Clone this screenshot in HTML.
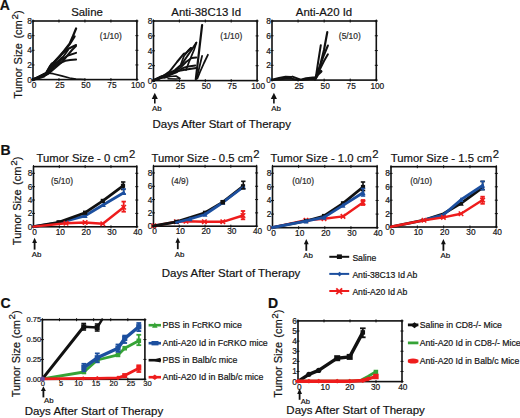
<!DOCTYPE html>
<html><head><meta charset="utf-8"><style>
html,body{margin:0;padding:0;background:#fff;}
svg{display:block;}
text{font-family:"Liberation Sans", sans-serif;stroke:#1a1a1a;stroke-width:0.2px;}
</style></head><body>
<svg width="520" height="418" viewBox="0 0 520 418">
<rect width="520" height="418" fill="#fff"/>
<text x="-0.20" y="10.30" font-size="14" text-anchor="start" font-weight="bold" fill="#111" >A</text>
<text x="0.40" y="154.90" font-size="14" text-anchor="start" font-weight="bold" fill="#111" >B</text>
<text x="0.60" y="308.00" font-size="14" text-anchor="start" font-weight="bold" fill="#111" >C</text>
<text x="268.00" y="308.10" font-size="14" text-anchor="start" font-weight="bold" fill="#111" >D</text>
<rect x="33.00" y="21.00" width="103.90" height="58.60" fill="none" stroke="#111" stroke-width="1.6"/>
<line x1="33.00" y1="19.50" x2="33.00" y2="22.50" stroke="#111" stroke-width="1"/>
<line x1="33.00" y1="78.10" x2="33.00" y2="81.10" stroke="#111" stroke-width="1"/>
<line x1="58.98" y1="19.50" x2="58.98" y2="22.50" stroke="#111" stroke-width="1"/>
<line x1="58.98" y1="78.10" x2="58.98" y2="81.10" stroke="#111" stroke-width="1"/>
<line x1="84.95" y1="19.50" x2="84.95" y2="22.50" stroke="#111" stroke-width="1"/>
<line x1="84.95" y1="78.10" x2="84.95" y2="81.10" stroke="#111" stroke-width="1"/>
<line x1="110.93" y1="19.50" x2="110.93" y2="22.50" stroke="#111" stroke-width="1"/>
<line x1="110.93" y1="78.10" x2="110.93" y2="81.10" stroke="#111" stroke-width="1"/>
<line x1="136.90" y1="19.50" x2="136.90" y2="22.50" stroke="#111" stroke-width="1"/>
<line x1="136.90" y1="78.10" x2="136.90" y2="81.10" stroke="#111" stroke-width="1"/>
<line x1="31.50" y1="79.60" x2="34.50" y2="79.60" stroke="#111" stroke-width="1"/>
<line x1="135.40" y1="79.60" x2="138.40" y2="79.60" stroke="#111" stroke-width="1"/>
<line x1="31.50" y1="64.95" x2="34.50" y2="64.95" stroke="#111" stroke-width="1"/>
<line x1="135.40" y1="64.95" x2="138.40" y2="64.95" stroke="#111" stroke-width="1"/>
<line x1="31.50" y1="50.30" x2="34.50" y2="50.30" stroke="#111" stroke-width="1"/>
<line x1="135.40" y1="50.30" x2="138.40" y2="50.30" stroke="#111" stroke-width="1"/>
<line x1="31.50" y1="35.65" x2="34.50" y2="35.65" stroke="#111" stroke-width="1"/>
<line x1="135.40" y1="35.65" x2="138.40" y2="35.65" stroke="#111" stroke-width="1"/>
<line x1="31.50" y1="21.00" x2="34.50" y2="21.00" stroke="#111" stroke-width="1"/>
<line x1="135.40" y1="21.00" x2="138.40" y2="21.00" stroke="#111" stroke-width="1"/>
<text x="34.00" y="88.30" font-size="8.3" text-anchor="middle" font-weight="normal" fill="#111" >0</text>
<text x="59.98" y="88.30" font-size="8.3" text-anchor="middle" font-weight="normal" fill="#111" >25</text>
<text x="85.95" y="88.30" font-size="8.3" text-anchor="middle" font-weight="normal" fill="#111" >50</text>
<text x="111.93" y="88.30" font-size="8.3" text-anchor="middle" font-weight="normal" fill="#111" >75</text>
<text x="137.90" y="88.30" font-size="8.3" text-anchor="middle" font-weight="normal" fill="#111" >100</text>
<text x="31.80" y="82.57" font-size="8.3" text-anchor="end" font-weight="normal" fill="#111" >0</text>
<text x="31.80" y="67.92" font-size="8.3" text-anchor="end" font-weight="normal" fill="#111" >2</text>
<text x="31.80" y="53.27" font-size="8.3" text-anchor="end" font-weight="normal" fill="#111" >4</text>
<text x="31.80" y="38.62" font-size="8.3" text-anchor="end" font-weight="normal" fill="#111" >6</text>
<text x="31.80" y="23.97" font-size="8.3" text-anchor="end" font-weight="normal" fill="#111" >8</text>
<text x="87.00" y="15.60" font-size="11.4" text-anchor="middle" font-weight="normal" fill="#111" >Saline</text>
<text x="110.80" y="39.00" font-size="8.4" text-anchor="middle" font-weight="normal" fill="#333" >(1/10)</text>
<rect x="153.50" y="21.00" width="103.60" height="59.60" fill="none" stroke="#111" stroke-width="1.6"/>
<line x1="153.50" y1="19.50" x2="153.50" y2="22.50" stroke="#111" stroke-width="1"/>
<line x1="153.50" y1="79.10" x2="153.50" y2="82.10" stroke="#111" stroke-width="1"/>
<line x1="179.40" y1="19.50" x2="179.40" y2="22.50" stroke="#111" stroke-width="1"/>
<line x1="179.40" y1="79.10" x2="179.40" y2="82.10" stroke="#111" stroke-width="1"/>
<line x1="205.30" y1="19.50" x2="205.30" y2="22.50" stroke="#111" stroke-width="1"/>
<line x1="205.30" y1="79.10" x2="205.30" y2="82.10" stroke="#111" stroke-width="1"/>
<line x1="231.20" y1="19.50" x2="231.20" y2="22.50" stroke="#111" stroke-width="1"/>
<line x1="231.20" y1="79.10" x2="231.20" y2="82.10" stroke="#111" stroke-width="1"/>
<line x1="257.10" y1="19.50" x2="257.10" y2="22.50" stroke="#111" stroke-width="1"/>
<line x1="257.10" y1="79.10" x2="257.10" y2="82.10" stroke="#111" stroke-width="1"/>
<line x1="152.00" y1="80.60" x2="155.00" y2="80.60" stroke="#111" stroke-width="1"/>
<line x1="255.60" y1="80.60" x2="258.60" y2="80.60" stroke="#111" stroke-width="1"/>
<line x1="152.00" y1="65.70" x2="155.00" y2="65.70" stroke="#111" stroke-width="1"/>
<line x1="255.60" y1="65.70" x2="258.60" y2="65.70" stroke="#111" stroke-width="1"/>
<line x1="152.00" y1="50.80" x2="155.00" y2="50.80" stroke="#111" stroke-width="1"/>
<line x1="255.60" y1="50.80" x2="258.60" y2="50.80" stroke="#111" stroke-width="1"/>
<line x1="152.00" y1="35.90" x2="155.00" y2="35.90" stroke="#111" stroke-width="1"/>
<line x1="255.60" y1="35.90" x2="258.60" y2="35.90" stroke="#111" stroke-width="1"/>
<line x1="152.00" y1="21.00" x2="155.00" y2="21.00" stroke="#111" stroke-width="1"/>
<line x1="255.60" y1="21.00" x2="258.60" y2="21.00" stroke="#111" stroke-width="1"/>
<text x="154.50" y="89.00" font-size="8.3" text-anchor="middle" font-weight="normal" fill="#111" >0</text>
<text x="180.40" y="89.00" font-size="8.3" text-anchor="middle" font-weight="normal" fill="#111" >25</text>
<text x="206.30" y="89.00" font-size="8.3" text-anchor="middle" font-weight="normal" fill="#111" >50</text>
<text x="232.20" y="89.00" font-size="8.3" text-anchor="middle" font-weight="normal" fill="#111" >75</text>
<text x="258.10" y="89.00" font-size="8.3" text-anchor="middle" font-weight="normal" fill="#111" >100</text>
<text x="152.30" y="83.57" font-size="8.3" text-anchor="end" font-weight="normal" fill="#111" >0</text>
<text x="152.30" y="68.67" font-size="8.3" text-anchor="end" font-weight="normal" fill="#111" >2</text>
<text x="152.30" y="53.77" font-size="8.3" text-anchor="end" font-weight="normal" fill="#111" >4</text>
<text x="152.30" y="38.87" font-size="8.3" text-anchor="end" font-weight="normal" fill="#111" >6</text>
<text x="152.30" y="23.97" font-size="8.3" text-anchor="end" font-weight="normal" fill="#111" >8</text>
<text x="206.20" y="15.60" font-size="11.4" text-anchor="middle" font-weight="normal" fill="#111" >Anti-38C13 Id</text>
<text x="231.30" y="39.00" font-size="8.4" text-anchor="middle" font-weight="normal" fill="#333" >(1/10)</text>
<rect x="272.00" y="21.00" width="104.30" height="59.10" fill="none" stroke="#111" stroke-width="1.6"/>
<line x1="272.00" y1="19.50" x2="272.00" y2="22.50" stroke="#111" stroke-width="1"/>
<line x1="272.00" y1="78.60" x2="272.00" y2="81.60" stroke="#111" stroke-width="1"/>
<line x1="298.07" y1="19.50" x2="298.07" y2="22.50" stroke="#111" stroke-width="1"/>
<line x1="298.07" y1="78.60" x2="298.07" y2="81.60" stroke="#111" stroke-width="1"/>
<line x1="324.15" y1="19.50" x2="324.15" y2="22.50" stroke="#111" stroke-width="1"/>
<line x1="324.15" y1="78.60" x2="324.15" y2="81.60" stroke="#111" stroke-width="1"/>
<line x1="350.23" y1="19.50" x2="350.23" y2="22.50" stroke="#111" stroke-width="1"/>
<line x1="350.23" y1="78.60" x2="350.23" y2="81.60" stroke="#111" stroke-width="1"/>
<line x1="376.30" y1="19.50" x2="376.30" y2="22.50" stroke="#111" stroke-width="1"/>
<line x1="376.30" y1="78.60" x2="376.30" y2="81.60" stroke="#111" stroke-width="1"/>
<line x1="270.50" y1="80.10" x2="273.50" y2="80.10" stroke="#111" stroke-width="1"/>
<line x1="374.80" y1="80.10" x2="377.80" y2="80.10" stroke="#111" stroke-width="1"/>
<line x1="270.50" y1="65.32" x2="273.50" y2="65.32" stroke="#111" stroke-width="1"/>
<line x1="374.80" y1="65.32" x2="377.80" y2="65.32" stroke="#111" stroke-width="1"/>
<line x1="270.50" y1="50.55" x2="273.50" y2="50.55" stroke="#111" stroke-width="1"/>
<line x1="374.80" y1="50.55" x2="377.80" y2="50.55" stroke="#111" stroke-width="1"/>
<line x1="270.50" y1="35.77" x2="273.50" y2="35.77" stroke="#111" stroke-width="1"/>
<line x1="374.80" y1="35.77" x2="377.80" y2="35.77" stroke="#111" stroke-width="1"/>
<line x1="270.50" y1="21.00" x2="273.50" y2="21.00" stroke="#111" stroke-width="1"/>
<line x1="374.80" y1="21.00" x2="377.80" y2="21.00" stroke="#111" stroke-width="1"/>
<text x="273.00" y="88.80" font-size="8.3" text-anchor="middle" font-weight="normal" fill="#111" >0</text>
<text x="299.07" y="88.80" font-size="8.3" text-anchor="middle" font-weight="normal" fill="#111" >25</text>
<text x="325.15" y="88.80" font-size="8.3" text-anchor="middle" font-weight="normal" fill="#111" >50</text>
<text x="351.23" y="88.80" font-size="8.3" text-anchor="middle" font-weight="normal" fill="#111" >75</text>
<text x="377.30" y="88.80" font-size="8.3" text-anchor="middle" font-weight="normal" fill="#111" >100</text>
<text x="270.80" y="83.07" font-size="8.3" text-anchor="end" font-weight="normal" fill="#111" >0</text>
<text x="270.80" y="68.30" font-size="8.3" text-anchor="end" font-weight="normal" fill="#111" >2</text>
<text x="270.80" y="53.52" font-size="8.3" text-anchor="end" font-weight="normal" fill="#111" >4</text>
<text x="270.80" y="38.75" font-size="8.3" text-anchor="end" font-weight="normal" fill="#111" >6</text>
<text x="270.80" y="23.97" font-size="8.3" text-anchor="end" font-weight="normal" fill="#111" >8</text>
<text x="324.00" y="15.60" font-size="11.4" text-anchor="middle" font-weight="normal" fill="#111" >Anti-A20 Id</text>
<text x="349.80" y="39.00" font-size="8.4" text-anchor="middle" font-weight="normal" fill="#333" >(5/10)</text>
<path d="M151.75,98.90 L154.80,92.80 L157.85,98.90 Z" fill="#111"/>
<line x1="154.80" y1="97.90" x2="154.80" y2="103.60" stroke="#111" stroke-width="1.6"/>
<text x="156.90" y="111.30" font-size="7.9" text-anchor="middle" font-weight="normal" fill="#111" >Ab</text>
<path d="M270.85,98.90 L273.90,92.80 L276.95,98.90 Z" fill="#111"/>
<line x1="273.90" y1="97.90" x2="273.90" y2="103.60" stroke="#111" stroke-width="1.6"/>
<text x="276.00" y="111.30" font-size="7.9" text-anchor="middle" font-weight="normal" fill="#111" >Ab</text>
<text x="221.70" y="127.60" font-size="11.5" text-anchor="middle" font-weight="normal" fill="#111" >Days After Start of Therapy</text>
<text transform="translate(22.00,98.86) rotate(-90)" font-size="11" text-anchor="start" fill="#111">Tumor Size <tspan dx="1.4">(cm</tspan><tspan dx="0.8" dy="-4.51" font-size="9.90">2</tspan><tspan dy="4.51">)</tspan></text>
<polyline points="33.00,79.60 40.00,77.00 46.60,73.50 52.00,65.00 58.00,58.00 64.00,51.00 69.60,43.60 73.00,36.00 76.10,28.50" fill="none" stroke="#111" stroke-width="2.2" stroke-linejoin="round" stroke-linecap="round"/>
<polyline points="33.00,79.60 46.00,74.00 51.00,66.00 57.00,59.00 63.00,53.00 68.00,49.00 72.00,47.00 76.10,45.00" fill="none" stroke="#111" stroke-width="2.0" stroke-linejoin="round" stroke-linecap="round"/>
<polyline points="33.00,79.60 47.00,74.00 53.00,67.00 59.00,61.00 64.00,58.00 68.00,55.50 76.10,52.90" fill="none" stroke="#111" stroke-width="2.0" stroke-linejoin="round" stroke-linecap="round"/>
<polyline points="33.00,79.60 47.00,74.00 54.00,67.00 60.00,63.00 65.30,60.80 70.00,60.00 76.10,59.60" fill="none" stroke="#111" stroke-width="2.0" stroke-linejoin="round" stroke-linecap="round"/>
<polyline points="33.00,79.60 46.00,73.00 50.00,66.00 55.00,61.00 61.00,55.00 66.00,49.00 70.00,44.00 74.70,36.40" fill="none" stroke="#111" stroke-width="2.0" stroke-linejoin="round" stroke-linecap="round"/>
<polyline points="33.00,79.60 46.00,73.50 51.70,63.50 58.10,63.00 63.00,57.00 68.00,50.00" fill="none" stroke="#111" stroke-width="2.0" stroke-linejoin="round" stroke-linecap="round"/>
<polyline points="33.00,79.60 48.00,74.00 55.00,68.00 62.00,62.00 67.00,56.00 72.00,50.00 76.00,46.00" fill="none" stroke="#111" stroke-width="2.0" stroke-linejoin="round" stroke-linecap="round"/>
<polyline points="33.00,79.60 44.00,76.00 49.00,71.00 53.00,66.00 58.00,62.00 62.00,58.00" fill="none" stroke="#111" stroke-width="3" stroke-linejoin="round" stroke-linecap="round"/>
<polyline points="33.00,79.60 46.60,73.00 53.10,73.70 61.70,75.90 69.60,78.00 76.00,79.00 84.70,79.50" fill="none" stroke="#111" stroke-width="1.7" stroke-linejoin="round" stroke-linecap="round"/>
<polyline points="153.50,80.50 163.00,76.00 169.50,71.70 177.00,62.00 183.70,53.80 185.80,53.30 191.00,48.00" fill="none" stroke="#111" stroke-width="2.0" stroke-linejoin="round" stroke-linecap="round"/>
<polyline points="153.50,80.50 166.00,75.00 175.00,70.00 182.00,64.00 186.00,58.00 191.50,50.00 196.30,42.70" fill="none" stroke="#111" stroke-width="2.0" stroke-linejoin="round" stroke-linecap="round"/>
<polyline points="153.50,80.50 168.00,75.00 178.00,71.00 186.30,69.60 196.30,68.00" fill="none" stroke="#111" stroke-width="2.0" stroke-linejoin="round" stroke-linecap="round"/>
<polyline points="153.50,80.50 167.00,76.00 177.00,72.00 183.00,68.00 188.40,66.40 195.30,65.40" fill="none" stroke="#111" stroke-width="2.0" stroke-linejoin="round" stroke-linecap="round"/>
<polyline points="153.50,80.50 170.00,74.00 180.00,68.00 186.00,62.00 191.60,58.00 196.30,57.50" fill="none" stroke="#111" stroke-width="2.0" stroke-linejoin="round" stroke-linecap="round"/>
<polyline points="186.00,70.00 189.00,62.00 194.00,50.00 196.30,42.70" fill="none" stroke="#111" stroke-width="1.8" stroke-linejoin="round" stroke-linecap="round"/>
<polyline points="181.00,64.00 184.00,56.00 188.00,51.00 191.00,48.00" fill="none" stroke="#111" stroke-width="1.8" stroke-linejoin="round" stroke-linecap="round"/>
<polyline points="153.50,80.50 160.00,77.50 166.00,75.50 172.00,72.50" fill="none" stroke="#111" stroke-width="3" stroke-linejoin="round" stroke-linecap="round"/>
<polyline points="164.00,78.00 170.00,76.50 176.00,76.00 180.00,78.50 176.00,79.00 168.00,78.80" fill="none" stroke="#111" stroke-width="1.6" stroke-linejoin="round" stroke-linecap="round"/>
<polyline points="195.80,79.50 202.10,25.10" fill="none" stroke="#111" stroke-width="2.2" stroke-linejoin="round" stroke-linecap="round"/>
<polyline points="196.80,78.00 202.10,55.90" fill="none" stroke="#111" stroke-width="1.8" stroke-linejoin="round" stroke-linecap="round"/>
<polyline points="197.40,78.50 200.00,72.00 204.00,63.00 207.90,54.80" fill="none" stroke="#111" stroke-width="1.8" stroke-linejoin="round" stroke-linecap="round"/>
<polyline points="272.00,79.60 279.00,78.00 285.60,76.80 291.10,77.10 292.50,76.60 300.60,79.60 306.10,78.20 312.90,77.50 315.70,77.50" fill="none" stroke="#111" stroke-width="2.0" stroke-linejoin="round" stroke-linecap="round"/>
<polyline points="272.00,80.00 282.00,79.00 290.00,78.50 296.00,79.50 301.60,80.00 310.00,79.00 315.00,79.00" fill="none" stroke="#111" stroke-width="1.8" stroke-linejoin="round" stroke-linecap="round"/>
<polyline points="315.70,78.20 320.00,66.00 324.00,50.00 327.30,32.10" fill="none" stroke="#111" stroke-width="2.2" stroke-linejoin="round" stroke-linecap="round"/>
<polyline points="315.70,78.20 318.00,63.00 320.80,45.20" fill="none" stroke="#111" stroke-width="2.0" stroke-linejoin="round" stroke-linecap="round"/>
<polyline points="315.70,78.20 320.00,66.00 324.00,55.00 327.90,45.50" fill="none" stroke="#111" stroke-width="2.0" stroke-linejoin="round" stroke-linecap="round"/>
<polyline points="315.70,78.20 320.00,69.00 324.00,61.00 327.90,54.30" fill="none" stroke="#111" stroke-width="2.0" stroke-linejoin="round" stroke-linecap="round"/>
<polyline points="315.00,79.00 318.00,74.00 321.00,71.40" fill="none" stroke="#111" stroke-width="3" stroke-linejoin="round" stroke-linecap="round"/>
<rect x="33.50" y="166.60" width="103.30" height="60.20" fill="none" stroke="#111" stroke-width="1.6"/>
<line x1="33.50" y1="165.10" x2="33.50" y2="168.10" stroke="#111" stroke-width="1"/>
<line x1="33.50" y1="225.30" x2="33.50" y2="228.30" stroke="#111" stroke-width="1"/>
<line x1="59.33" y1="165.10" x2="59.33" y2="168.10" stroke="#111" stroke-width="1"/>
<line x1="59.33" y1="225.30" x2="59.33" y2="228.30" stroke="#111" stroke-width="1"/>
<line x1="85.15" y1="165.10" x2="85.15" y2="168.10" stroke="#111" stroke-width="1"/>
<line x1="85.15" y1="225.30" x2="85.15" y2="228.30" stroke="#111" stroke-width="1"/>
<line x1="110.98" y1="165.10" x2="110.98" y2="168.10" stroke="#111" stroke-width="1"/>
<line x1="110.98" y1="225.30" x2="110.98" y2="228.30" stroke="#111" stroke-width="1"/>
<line x1="136.80" y1="165.10" x2="136.80" y2="168.10" stroke="#111" stroke-width="1"/>
<line x1="136.80" y1="225.30" x2="136.80" y2="228.30" stroke="#111" stroke-width="1"/>
<line x1="32.00" y1="226.80" x2="35.00" y2="226.80" stroke="#111" stroke-width="1"/>
<line x1="135.30" y1="226.80" x2="138.30" y2="226.80" stroke="#111" stroke-width="1"/>
<line x1="32.00" y1="213.42" x2="35.00" y2="213.42" stroke="#111" stroke-width="1"/>
<line x1="135.30" y1="213.42" x2="138.30" y2="213.42" stroke="#111" stroke-width="1"/>
<line x1="32.00" y1="200.04" x2="35.00" y2="200.04" stroke="#111" stroke-width="1"/>
<line x1="135.30" y1="200.04" x2="138.30" y2="200.04" stroke="#111" stroke-width="1"/>
<line x1="32.00" y1="186.67" x2="35.00" y2="186.67" stroke="#111" stroke-width="1"/>
<line x1="135.30" y1="186.67" x2="138.30" y2="186.67" stroke="#111" stroke-width="1"/>
<line x1="32.00" y1="173.29" x2="35.00" y2="173.29" stroke="#111" stroke-width="1"/>
<line x1="135.30" y1="173.29" x2="138.30" y2="173.29" stroke="#111" stroke-width="1"/>
<text x="34.50" y="235.00" font-size="8.3" text-anchor="middle" font-weight="normal" fill="#111" >0</text>
<text x="60.33" y="235.00" font-size="8.3" text-anchor="middle" font-weight="normal" fill="#111" >10</text>
<text x="86.15" y="235.00" font-size="8.3" text-anchor="middle" font-weight="normal" fill="#111" >20</text>
<text x="111.98" y="235.00" font-size="8.3" text-anchor="middle" font-weight="normal" fill="#111" >30</text>
<text x="137.80" y="235.00" font-size="8.3" text-anchor="middle" font-weight="normal" fill="#111" >40</text>
<text x="32.30" y="229.77" font-size="8.3" text-anchor="end" font-weight="normal" fill="#111" >0</text>
<text x="32.30" y="216.39" font-size="8.3" text-anchor="end" font-weight="normal" fill="#111" >2</text>
<text x="32.30" y="203.02" font-size="8.3" text-anchor="end" font-weight="normal" fill="#111" >4</text>
<text x="32.30" y="189.64" font-size="8.3" text-anchor="end" font-weight="normal" fill="#111" >6</text>
<text x="32.30" y="176.26" font-size="8.3" text-anchor="end" font-weight="normal" fill="#111" >8</text>
<text x="85.95" y="161.9" font-size="11.3" text-anchor="middle" fill="#111">Tumor Size - 0 cm<tspan dx="0.5" dy="-4" font-size="11.3">2</tspan></text>
<text x="62.00" y="183.60" font-size="8.4" text-anchor="middle" font-weight="normal" fill="#333" >(5/10)</text>
<path d="M32.20,243.10 L34.60,237.80 L37.00,243.10 Z" fill="#111"/>
<line x1="34.60" y1="242.10" x2="34.60" y2="249.60" stroke="#111" stroke-width="1.8"/>
<text x="36.50" y="256.90" font-size="7.9" text-anchor="middle" font-weight="normal" fill="#111" >Ab</text>
<rect x="153.50" y="166.30" width="103.10" height="59.90" fill="none" stroke="#111" stroke-width="1.6"/>
<line x1="153.50" y1="164.80" x2="153.50" y2="167.80" stroke="#111" stroke-width="1"/>
<line x1="153.50" y1="224.70" x2="153.50" y2="227.70" stroke="#111" stroke-width="1"/>
<line x1="179.28" y1="164.80" x2="179.28" y2="167.80" stroke="#111" stroke-width="1"/>
<line x1="179.28" y1="224.70" x2="179.28" y2="227.70" stroke="#111" stroke-width="1"/>
<line x1="205.05" y1="164.80" x2="205.05" y2="167.80" stroke="#111" stroke-width="1"/>
<line x1="205.05" y1="224.70" x2="205.05" y2="227.70" stroke="#111" stroke-width="1"/>
<line x1="230.83" y1="164.80" x2="230.83" y2="167.80" stroke="#111" stroke-width="1"/>
<line x1="230.83" y1="224.70" x2="230.83" y2="227.70" stroke="#111" stroke-width="1"/>
<line x1="256.60" y1="164.80" x2="256.60" y2="167.80" stroke="#111" stroke-width="1"/>
<line x1="256.60" y1="224.70" x2="256.60" y2="227.70" stroke="#111" stroke-width="1"/>
<line x1="152.00" y1="226.20" x2="155.00" y2="226.20" stroke="#111" stroke-width="1"/>
<line x1="255.10" y1="226.20" x2="258.10" y2="226.20" stroke="#111" stroke-width="1"/>
<line x1="152.00" y1="212.89" x2="155.00" y2="212.89" stroke="#111" stroke-width="1"/>
<line x1="255.10" y1="212.89" x2="258.10" y2="212.89" stroke="#111" stroke-width="1"/>
<line x1="152.00" y1="199.58" x2="155.00" y2="199.58" stroke="#111" stroke-width="1"/>
<line x1="255.10" y1="199.58" x2="258.10" y2="199.58" stroke="#111" stroke-width="1"/>
<line x1="152.00" y1="186.27" x2="155.00" y2="186.27" stroke="#111" stroke-width="1"/>
<line x1="255.10" y1="186.27" x2="258.10" y2="186.27" stroke="#111" stroke-width="1"/>
<line x1="152.00" y1="172.96" x2="155.00" y2="172.96" stroke="#111" stroke-width="1"/>
<line x1="255.10" y1="172.96" x2="258.10" y2="172.96" stroke="#111" stroke-width="1"/>
<text x="154.50" y="234.40" font-size="8.3" text-anchor="middle" font-weight="normal" fill="#111" >0</text>
<text x="180.28" y="234.40" font-size="8.3" text-anchor="middle" font-weight="normal" fill="#111" >10</text>
<text x="206.05" y="234.40" font-size="8.3" text-anchor="middle" font-weight="normal" fill="#111" >20</text>
<text x="231.83" y="234.40" font-size="8.3" text-anchor="middle" font-weight="normal" fill="#111" >30</text>
<text x="257.60" y="234.40" font-size="8.3" text-anchor="middle" font-weight="normal" fill="#111" >40</text>
<text x="152.30" y="229.17" font-size="8.3" text-anchor="end" font-weight="normal" fill="#111" >0</text>
<text x="152.30" y="215.86" font-size="8.3" text-anchor="end" font-weight="normal" fill="#111" >2</text>
<text x="152.30" y="202.55" font-size="8.3" text-anchor="end" font-weight="normal" fill="#111" >4</text>
<text x="152.30" y="189.24" font-size="8.3" text-anchor="end" font-weight="normal" fill="#111" >6</text>
<text x="152.30" y="175.93" font-size="8.3" text-anchor="end" font-weight="normal" fill="#111" >8</text>
<text x="205.55" y="161.9" font-size="11.3" text-anchor="middle" fill="#111">Tumor Size - 0.5 cm<tspan dx="0.5" dy="-4" font-size="11.3">2</tspan></text>
<text x="179.90" y="183.60" font-size="8.4" text-anchor="middle" font-weight="normal" fill="#333" >(4/9)</text>
<path d="M175.40,242.70 L177.80,237.40 L180.20,242.70 Z" fill="#111"/>
<line x1="177.80" y1="241.70" x2="177.80" y2="249.20" stroke="#111" stroke-width="1.8"/>
<text x="179.70" y="256.50" font-size="7.9" text-anchor="middle" font-weight="normal" fill="#111" >Ab</text>
<rect x="272.50" y="166.40" width="104.60" height="61.30" fill="none" stroke="#111" stroke-width="1.6"/>
<line x1="272.50" y1="164.90" x2="272.50" y2="167.90" stroke="#111" stroke-width="1"/>
<line x1="272.50" y1="226.20" x2="272.50" y2="229.20" stroke="#111" stroke-width="1"/>
<line x1="298.65" y1="164.90" x2="298.65" y2="167.90" stroke="#111" stroke-width="1"/>
<line x1="298.65" y1="226.20" x2="298.65" y2="229.20" stroke="#111" stroke-width="1"/>
<line x1="324.80" y1="164.90" x2="324.80" y2="167.90" stroke="#111" stroke-width="1"/>
<line x1="324.80" y1="226.20" x2="324.80" y2="229.20" stroke="#111" stroke-width="1"/>
<line x1="350.95" y1="164.90" x2="350.95" y2="167.90" stroke="#111" stroke-width="1"/>
<line x1="350.95" y1="226.20" x2="350.95" y2="229.20" stroke="#111" stroke-width="1"/>
<line x1="377.10" y1="164.90" x2="377.10" y2="167.90" stroke="#111" stroke-width="1"/>
<line x1="377.10" y1="226.20" x2="377.10" y2="229.20" stroke="#111" stroke-width="1"/>
<line x1="271.00" y1="227.70" x2="274.00" y2="227.70" stroke="#111" stroke-width="1"/>
<line x1="375.60" y1="227.70" x2="378.60" y2="227.70" stroke="#111" stroke-width="1"/>
<line x1="271.00" y1="214.08" x2="274.00" y2="214.08" stroke="#111" stroke-width="1"/>
<line x1="375.60" y1="214.08" x2="378.60" y2="214.08" stroke="#111" stroke-width="1"/>
<line x1="271.00" y1="200.46" x2="274.00" y2="200.46" stroke="#111" stroke-width="1"/>
<line x1="375.60" y1="200.46" x2="378.60" y2="200.46" stroke="#111" stroke-width="1"/>
<line x1="271.00" y1="186.83" x2="274.00" y2="186.83" stroke="#111" stroke-width="1"/>
<line x1="375.60" y1="186.83" x2="378.60" y2="186.83" stroke="#111" stroke-width="1"/>
<line x1="271.00" y1="173.21" x2="274.00" y2="173.21" stroke="#111" stroke-width="1"/>
<line x1="375.60" y1="173.21" x2="378.60" y2="173.21" stroke="#111" stroke-width="1"/>
<text x="273.50" y="235.90" font-size="8.3" text-anchor="middle" font-weight="normal" fill="#111" >0</text>
<text x="299.65" y="235.90" font-size="8.3" text-anchor="middle" font-weight="normal" fill="#111" >10</text>
<text x="325.80" y="235.90" font-size="8.3" text-anchor="middle" font-weight="normal" fill="#111" >20</text>
<text x="351.95" y="235.90" font-size="8.3" text-anchor="middle" font-weight="normal" fill="#111" >30</text>
<text x="378.10" y="235.90" font-size="8.3" text-anchor="middle" font-weight="normal" fill="#111" >40</text>
<text x="271.30" y="230.67" font-size="8.3" text-anchor="end" font-weight="normal" fill="#111" >0</text>
<text x="271.30" y="217.05" font-size="8.3" text-anchor="end" font-weight="normal" fill="#111" >2</text>
<text x="271.30" y="203.43" font-size="8.3" text-anchor="end" font-weight="normal" fill="#111" >4</text>
<text x="271.30" y="189.80" font-size="8.3" text-anchor="end" font-weight="normal" fill="#111" >6</text>
<text x="271.30" y="176.18" font-size="8.3" text-anchor="end" font-weight="normal" fill="#111" >8</text>
<text x="324.55" y="161.9" font-size="11.3" text-anchor="middle" fill="#111">Tumor Size - 1.0 cm<tspan dx="0.5" dy="-4" font-size="11.3">2</tspan></text>
<text x="303.10" y="183.60" font-size="8.4" text-anchor="middle" font-weight="normal" fill="#333" >(0/10)</text>
<path d="M303.90,244.30 L306.30,239.00 L308.70,244.30 Z" fill="#111"/>
<line x1="306.30" y1="243.30" x2="306.30" y2="250.80" stroke="#111" stroke-width="1.8"/>
<text x="308.20" y="258.10" font-size="7.9" text-anchor="middle" font-weight="normal" fill="#111" >Ab</text>
<rect x="391.00" y="166.70" width="105.30" height="60.30" fill="none" stroke="#111" stroke-width="1.6"/>
<line x1="391.00" y1="165.20" x2="391.00" y2="168.20" stroke="#111" stroke-width="1"/>
<line x1="391.00" y1="225.50" x2="391.00" y2="228.50" stroke="#111" stroke-width="1"/>
<line x1="417.32" y1="165.20" x2="417.32" y2="168.20" stroke="#111" stroke-width="1"/>
<line x1="417.32" y1="225.50" x2="417.32" y2="228.50" stroke="#111" stroke-width="1"/>
<line x1="443.65" y1="165.20" x2="443.65" y2="168.20" stroke="#111" stroke-width="1"/>
<line x1="443.65" y1="225.50" x2="443.65" y2="228.50" stroke="#111" stroke-width="1"/>
<line x1="469.98" y1="165.20" x2="469.98" y2="168.20" stroke="#111" stroke-width="1"/>
<line x1="469.98" y1="225.50" x2="469.98" y2="228.50" stroke="#111" stroke-width="1"/>
<line x1="496.30" y1="165.20" x2="496.30" y2="168.20" stroke="#111" stroke-width="1"/>
<line x1="496.30" y1="225.50" x2="496.30" y2="228.50" stroke="#111" stroke-width="1"/>
<line x1="389.50" y1="227.00" x2="392.50" y2="227.00" stroke="#111" stroke-width="1"/>
<line x1="494.80" y1="227.00" x2="497.80" y2="227.00" stroke="#111" stroke-width="1"/>
<line x1="389.50" y1="213.60" x2="392.50" y2="213.60" stroke="#111" stroke-width="1"/>
<line x1="494.80" y1="213.60" x2="497.80" y2="213.60" stroke="#111" stroke-width="1"/>
<line x1="389.50" y1="200.20" x2="392.50" y2="200.20" stroke="#111" stroke-width="1"/>
<line x1="494.80" y1="200.20" x2="497.80" y2="200.20" stroke="#111" stroke-width="1"/>
<line x1="389.50" y1="186.80" x2="392.50" y2="186.80" stroke="#111" stroke-width="1"/>
<line x1="494.80" y1="186.80" x2="497.80" y2="186.80" stroke="#111" stroke-width="1"/>
<line x1="389.50" y1="173.40" x2="392.50" y2="173.40" stroke="#111" stroke-width="1"/>
<line x1="494.80" y1="173.40" x2="497.80" y2="173.40" stroke="#111" stroke-width="1"/>
<text x="392.00" y="235.20" font-size="8.3" text-anchor="middle" font-weight="normal" fill="#111" >0</text>
<text x="418.32" y="235.20" font-size="8.3" text-anchor="middle" font-weight="normal" fill="#111" >10</text>
<text x="444.65" y="235.20" font-size="8.3" text-anchor="middle" font-weight="normal" fill="#111" >20</text>
<text x="470.98" y="235.20" font-size="8.3" text-anchor="middle" font-weight="normal" fill="#111" >30</text>
<text x="497.30" y="235.20" font-size="8.3" text-anchor="middle" font-weight="normal" fill="#111" >40</text>
<text x="389.80" y="229.97" font-size="8.3" text-anchor="end" font-weight="normal" fill="#111" >0</text>
<text x="389.80" y="216.57" font-size="8.3" text-anchor="end" font-weight="normal" fill="#111" >2</text>
<text x="389.80" y="203.17" font-size="8.3" text-anchor="end" font-weight="normal" fill="#111" >4</text>
<text x="389.80" y="189.77" font-size="8.3" text-anchor="end" font-weight="normal" fill="#111" >6</text>
<text x="389.80" y="176.37" font-size="8.3" text-anchor="end" font-weight="normal" fill="#111" >8</text>
<text x="444.90" y="161.9" font-size="11.3" text-anchor="middle" fill="#111">Tumor Size - 1.5 cm<tspan dx="0.5" dy="-4" font-size="11.3">2</tspan></text>
<text x="421.10" y="183.60" font-size="8.4" text-anchor="middle" font-weight="normal" fill="#333" >(0/10)</text>
<path d="M441.00,244.30 L443.40,239.00 L445.80,244.30 Z" fill="#111"/>
<line x1="443.40" y1="243.30" x2="443.40" y2="250.80" stroke="#111" stroke-width="1.8"/>
<text x="445.30" y="258.10" font-size="7.9" text-anchor="middle" font-weight="normal" fill="#111" >Ab</text>
<text x="231.05" y="277.30" font-size="11.5" text-anchor="middle" font-weight="normal" fill="#111" >Days After Start of Therapy</text>
<text transform="translate(21.30,245.16) rotate(-90)" font-size="11" text-anchor="start" fill="#111">Tumor Size <tspan dx="1.4">(cm</tspan><tspan dx="0.8" dy="-4.51" font-size="9.90">2</tspan><tspan dy="4.51">)</tspan></text>
<polyline points="33.50,226.60 58.60,222.80 85.10,215.80 103.40,204.70 123.70,192.70" fill="none" stroke="#1c4f9f" stroke-width="2.8" stroke-linejoin="round" stroke-linecap="round"/>
<path d="M58.60,220.05 L61.10,225.05 L56.10,225.05 Z" fill="#1c4f9f"/>
<path d="M85.10,213.05 L87.60,218.05 L82.60,218.05 Z" fill="#1c4f9f"/>
<path d="M103.40,201.95 L105.90,206.95 L100.90,206.95 Z" fill="#1c4f9f"/>
<path d="M123.70,189.95 L126.20,194.95 L121.20,194.95 Z" fill="#1c4f9f"/>
<polyline points="33.50,226.60 58.60,222.30 85.10,212.70 102.80,200.90 123.00,185.80" fill="none" stroke="#111" stroke-width="2.8" stroke-linejoin="round" stroke-linecap="round"/>
<rect x="56.50" y="220.20" width="4.2" height="4.2" fill="#111"/>
<rect x="83.00" y="210.60" width="4.2" height="4.2" fill="#111"/>
<rect x="100.70" y="198.80" width="4.2" height="4.2" fill="#111"/>
<rect x="120.90" y="183.70" width="4.2" height="4.2" fill="#111"/>
<line x1="123.20" y1="182.00" x2="123.20" y2="189.50" stroke="#111" stroke-width="1.6"/>
<line x1="121.00" y1="182.00" x2="125.40" y2="182.00" stroke="#111" stroke-width="1.6"/>
<line x1="121.00" y1="189.50" x2="125.40" y2="189.50" stroke="#111" stroke-width="1.6"/>
<line x1="123.70" y1="189.00" x2="123.70" y2="194.00" stroke="#1c4f9f" stroke-width="1.6"/>
<line x1="121.50" y1="189.00" x2="125.90" y2="189.00" stroke="#1c4f9f" stroke-width="1.6"/>
<line x1="121.50" y1="194.00" x2="125.90" y2="194.00" stroke="#1c4f9f" stroke-width="1.6"/>
<line x1="123.70" y1="201.60" x2="123.70" y2="211.70" stroke="#ee1c1c" stroke-width="1.8"/>
<line x1="121.50" y1="201.60" x2="125.90" y2="201.60" stroke="#ee1c1c" stroke-width="1.8"/>
<line x1="121.50" y1="211.70" x2="125.90" y2="211.70" stroke="#ee1c1c" stroke-width="1.8"/>
<polyline points="33.50,226.60 66.00,223.30 85.10,222.50 102.80,223.70 123.70,207.30" fill="none" stroke="#ee1c1c" stroke-width="2.4" stroke-linejoin="round" stroke-linecap="round"/>
<line x1="63.75" y1="221.05" x2="68.25" y2="225.55" stroke="#ee1c1c" stroke-width="1.6"/>
<line x1="63.75" y1="225.55" x2="68.25" y2="221.05" stroke="#ee1c1c" stroke-width="1.6"/>
<line x1="82.85" y1="220.25" x2="87.35" y2="224.75" stroke="#ee1c1c" stroke-width="1.6"/>
<line x1="82.85" y1="224.75" x2="87.35" y2="220.25" stroke="#ee1c1c" stroke-width="1.6"/>
<line x1="100.55" y1="221.45" x2="105.05" y2="225.95" stroke="#ee1c1c" stroke-width="1.6"/>
<line x1="100.55" y1="225.95" x2="105.05" y2="221.45" stroke="#ee1c1c" stroke-width="1.6"/>
<line x1="121.45" y1="205.05" x2="125.95" y2="209.55" stroke="#ee1c1c" stroke-width="1.6"/>
<line x1="121.45" y1="209.55" x2="125.95" y2="205.05" stroke="#ee1c1c" stroke-width="1.6"/>
<polyline points="153.50,226.00 176.40,221.70 186.00,221.20 204.40,221.80 222.80,221.80 243.00,215.50" fill="none" stroke="#ee1c1c" stroke-width="2.4" stroke-linejoin="round" stroke-linecap="round"/>
<line x1="174.15" y1="219.45" x2="178.65" y2="223.95" stroke="#ee1c1c" stroke-width="1.6"/>
<line x1="174.15" y1="223.95" x2="178.65" y2="219.45" stroke="#ee1c1c" stroke-width="1.6"/>
<line x1="183.75" y1="218.95" x2="188.25" y2="223.45" stroke="#ee1c1c" stroke-width="1.6"/>
<line x1="183.75" y1="223.45" x2="188.25" y2="218.95" stroke="#ee1c1c" stroke-width="1.6"/>
<line x1="202.15" y1="219.55" x2="206.65" y2="224.05" stroke="#ee1c1c" stroke-width="1.6"/>
<line x1="202.15" y1="224.05" x2="206.65" y2="219.55" stroke="#ee1c1c" stroke-width="1.6"/>
<line x1="220.55" y1="219.55" x2="225.05" y2="224.05" stroke="#ee1c1c" stroke-width="1.6"/>
<line x1="220.55" y1="224.05" x2="225.05" y2="219.55" stroke="#ee1c1c" stroke-width="1.6"/>
<line x1="240.75" y1="213.25" x2="245.25" y2="217.75" stroke="#ee1c1c" stroke-width="1.6"/>
<line x1="240.75" y1="217.75" x2="245.25" y2="213.25" stroke="#ee1c1c" stroke-width="1.6"/>
<line x1="151.55" y1="223.55" x2="156.05" y2="228.05" stroke="#ee1c1c" stroke-width="1.6"/>
<line x1="151.55" y1="228.05" x2="156.05" y2="223.55" stroke="#ee1c1c" stroke-width="1.6"/>
<polyline points="153.50,226.00 176.40,221.90 205.00,212.80 222.80,202.20 243.00,186.30" fill="none" stroke="#111" stroke-width="2.8" stroke-linejoin="round" stroke-linecap="round"/>
<rect x="174.30" y="219.80" width="4.2" height="4.2" fill="#111"/>
<rect x="202.90" y="210.70" width="4.2" height="4.2" fill="#111"/>
<rect x="220.70" y="200.10" width="4.2" height="4.2" fill="#111"/>
<rect x="240.90" y="184.20" width="4.2" height="4.2" fill="#111"/>
<polyline points="176.40,222.50 190.00,219.00 205.00,214.50 222.80,202.50 243.30,187.00" fill="none" stroke="#1c4f9f" stroke-width="2.8" stroke-linejoin="round" stroke-linecap="round"/>
<path d="M190.00,216.25 L192.50,221.25 L187.50,221.25 Z" fill="#1c4f9f"/>
<path d="M205.00,211.75 L207.50,216.75 L202.50,216.75 Z" fill="#1c4f9f"/>
<path d="M222.80,199.75 L225.30,204.75 L220.30,204.75 Z" fill="#1c4f9f"/>
<path d="M243.30,184.25 L245.80,189.25 L240.80,189.25 Z" fill="#1c4f9f"/>
<rect x="220.55" y="199.95" width="4.5" height="4.5" fill="#111"/>
<line x1="243.30" y1="181.30" x2="243.30" y2="188.90" stroke="#111" stroke-width="1.6"/>
<line x1="241.10" y1="181.30" x2="245.50" y2="181.30" stroke="#111" stroke-width="1.6"/>
<line x1="241.10" y1="188.90" x2="245.50" y2="188.90" stroke="#111" stroke-width="1.6"/>
<line x1="243.00" y1="211.00" x2="243.00" y2="219.30" stroke="#ee1c1c" stroke-width="1.8"/>
<line x1="240.80" y1="211.00" x2="245.20" y2="211.00" stroke="#ee1c1c" stroke-width="1.8"/>
<line x1="240.80" y1="219.30" x2="245.20" y2="219.30" stroke="#ee1c1c" stroke-width="1.8"/>
<polyline points="272.50,227.50 306.00,220.20 324.00,218.70 343.00,216.40 363.00,202.60" fill="none" stroke="#ee1c1c" stroke-width="2.4" stroke-linejoin="round" stroke-linecap="round"/>
<line x1="303.75" y1="217.95" x2="308.25" y2="222.45" stroke="#ee1c1c" stroke-width="1.6"/>
<line x1="303.75" y1="222.45" x2="308.25" y2="217.95" stroke="#ee1c1c" stroke-width="1.6"/>
<line x1="321.75" y1="216.45" x2="326.25" y2="220.95" stroke="#ee1c1c" stroke-width="1.6"/>
<line x1="321.75" y1="220.95" x2="326.25" y2="216.45" stroke="#ee1c1c" stroke-width="1.6"/>
<line x1="340.75" y1="214.15" x2="345.25" y2="218.65" stroke="#ee1c1c" stroke-width="1.6"/>
<line x1="340.75" y1="218.65" x2="345.25" y2="214.15" stroke="#ee1c1c" stroke-width="1.6"/>
<line x1="360.75" y1="200.35" x2="365.25" y2="204.85" stroke="#ee1c1c" stroke-width="1.6"/>
<line x1="360.75" y1="204.85" x2="365.25" y2="200.35" stroke="#ee1c1c" stroke-width="1.6"/>
<polyline points="272.50,227.50 306.00,221.00 324.00,216.00 343.00,203.30 363.00,187.00" fill="none" stroke="#111" stroke-width="2.8" stroke-linejoin="round" stroke-linecap="round"/>
<rect x="303.90" y="218.90" width="4.2" height="4.2" fill="#111"/>
<rect x="321.90" y="213.90" width="4.2" height="4.2" fill="#111"/>
<rect x="340.90" y="201.20" width="4.2" height="4.2" fill="#111"/>
<rect x="360.90" y="184.90" width="4.2" height="4.2" fill="#111"/>
<polyline points="272.50,227.50 306.00,221.20 324.00,217.40 343.00,205.40 363.00,192.70" fill="none" stroke="#1c4f9f" stroke-width="2.8" stroke-linejoin="round" stroke-linecap="round"/>
<path d="M306.00,218.45 L308.50,223.45 L303.50,223.45 Z" fill="#1c4f9f"/>
<path d="M324.00,214.65 L326.50,219.65 L321.50,219.65 Z" fill="#1c4f9f"/>
<path d="M343.00,202.65 L345.50,207.65 L340.50,207.65 Z" fill="#1c4f9f"/>
<path d="M363.00,189.95 L365.50,194.95 L360.50,194.95 Z" fill="#1c4f9f"/>
<line x1="363.00" y1="182.00" x2="363.00" y2="190.60" stroke="#111" stroke-width="1.6"/>
<line x1="360.80" y1="182.00" x2="365.20" y2="182.00" stroke="#111" stroke-width="1.6"/>
<line x1="360.80" y1="190.60" x2="365.20" y2="190.60" stroke="#111" stroke-width="1.6"/>
<line x1="363.00" y1="188.50" x2="363.00" y2="196.00" stroke="#1c4f9f" stroke-width="1.6"/>
<line x1="360.80" y1="188.50" x2="365.20" y2="188.50" stroke="#1c4f9f" stroke-width="1.6"/>
<line x1="360.80" y1="196.00" x2="365.20" y2="196.00" stroke="#1c4f9f" stroke-width="1.6"/>
<line x1="363.00" y1="200.00" x2="363.00" y2="205.00" stroke="#ee1c1c" stroke-width="1.8"/>
<line x1="360.80" y1="200.00" x2="365.20" y2="200.00" stroke="#ee1c1c" stroke-width="1.8"/>
<line x1="360.80" y1="205.00" x2="365.20" y2="205.00" stroke="#ee1c1c" stroke-width="1.8"/>
<polyline points="391.00,226.80 424.00,220.20 443.40,213.80 461.00,203.30 482.60,187.50" fill="none" stroke="#111" stroke-width="2.8" stroke-linejoin="round" stroke-linecap="round"/>
<line x1="482.60" y1="181.40" x2="482.60" y2="189.60" stroke="#111" stroke-width="1.6"/>
<line x1="480.40" y1="181.40" x2="484.80" y2="181.40" stroke="#111" stroke-width="1.6"/>
<line x1="480.40" y1="189.60" x2="484.80" y2="189.60" stroke="#111" stroke-width="1.6"/>
<path d="M461.00,200.28 L463.75,205.78 L458.25,205.78 Z" fill="#111"/>
<polyline points="424.00,220.20 443.40,214.90 461.00,199.70 482.60,185.50" fill="none" stroke="#1c4f9f" stroke-width="2.8" stroke-linejoin="round" stroke-linecap="round"/>
<path d="M443.40,212.15 L445.90,217.15 L440.90,217.15 Z" fill="#1c4f9f"/>
<path d="M461.00,196.95 L463.50,201.95 L458.50,201.95 Z" fill="#1c4f9f"/>
<path d="M482.60,182.75 L485.10,187.75 L480.10,187.75 Z" fill="#1c4f9f"/>
<line x1="482.60" y1="181.40" x2="482.60" y2="189.60" stroke="#1c4f9f" stroke-width="1.6"/>
<line x1="480.40" y1="181.40" x2="484.80" y2="181.40" stroke="#1c4f9f" stroke-width="1.6"/>
<line x1="480.40" y1="189.60" x2="484.80" y2="189.60" stroke="#1c4f9f" stroke-width="1.6"/>
<line x1="482.60" y1="196.70" x2="482.60" y2="203.80" stroke="#ee1c1c" stroke-width="1.8"/>
<line x1="480.40" y1="196.70" x2="484.80" y2="196.70" stroke="#ee1c1c" stroke-width="1.8"/>
<line x1="480.40" y1="203.80" x2="484.80" y2="203.80" stroke="#ee1c1c" stroke-width="1.8"/>
<polyline points="391.00,226.80 424.00,220.20 443.40,217.40 461.00,213.80 482.60,200.10" fill="none" stroke="#ee1c1c" stroke-width="2.4" stroke-linejoin="round" stroke-linecap="round"/>
<line x1="421.75" y1="217.95" x2="426.25" y2="222.45" stroke="#ee1c1c" stroke-width="1.6"/>
<line x1="421.75" y1="222.45" x2="426.25" y2="217.95" stroke="#ee1c1c" stroke-width="1.6"/>
<line x1="441.15" y1="215.15" x2="445.65" y2="219.65" stroke="#ee1c1c" stroke-width="1.6"/>
<line x1="441.15" y1="219.65" x2="445.65" y2="215.15" stroke="#ee1c1c" stroke-width="1.6"/>
<line x1="458.75" y1="211.55" x2="463.25" y2="216.05" stroke="#ee1c1c" stroke-width="1.6"/>
<line x1="458.75" y1="216.05" x2="463.25" y2="211.55" stroke="#ee1c1c" stroke-width="1.6"/>
<line x1="480.35" y1="197.85" x2="484.85" y2="202.35" stroke="#ee1c1c" stroke-width="1.6"/>
<line x1="480.35" y1="202.35" x2="484.85" y2="197.85" stroke="#ee1c1c" stroke-width="1.6"/>
<line x1="329.30" y1="256.80" x2="349.20" y2="256.80" stroke="#111" stroke-width="2"/>
<text x="352.40" y="260.80" font-size="8.6" text-anchor="start" font-weight="normal" fill="#111" >Saline</text>
<line x1="329.30" y1="273.90" x2="349.20" y2="273.90" stroke="#1c4f9f" stroke-width="2"/>
<text x="352.40" y="277.90" font-size="8.6" text-anchor="start" font-weight="normal" fill="#111" >Anti-38C13 Id Ab</text>
<line x1="329.30" y1="291.00" x2="349.20" y2="291.00" stroke="#ee1c1c" stroke-width="2"/>
<text x="352.40" y="295.00" font-size="8.6" text-anchor="start" font-weight="normal" fill="#111" >Anti-A20 Id Ab</text>
<rect x="336.9" y="254.4" width="5" height="4.6" fill="#111"/>
<path d="M339.6,271.7 L342,273.9 L339.6,276.4 L337.2,273.9 Z" fill="#1c4f9f"/>
<line x1="336.30" y1="288.30" x2="342.10" y2="294.10" stroke="#ee1c1c" stroke-width="1.8"/>
<line x1="336.30" y1="294.10" x2="342.10" y2="288.30" stroke="#ee1c1c" stroke-width="1.8"/>
<rect x="42.40" y="319.70" width="102.50" height="59.60" fill="none" stroke="#111" stroke-width="1.6"/>
<line x1="42.40" y1="318.20" x2="42.40" y2="321.20" stroke="#111" stroke-width="1"/>
<line x1="42.40" y1="377.80" x2="42.40" y2="380.80" stroke="#111" stroke-width="1"/>
<line x1="59.48" y1="318.20" x2="59.48" y2="321.20" stroke="#111" stroke-width="1"/>
<line x1="59.48" y1="377.80" x2="59.48" y2="380.80" stroke="#111" stroke-width="1"/>
<line x1="76.57" y1="318.20" x2="76.57" y2="321.20" stroke="#111" stroke-width="1"/>
<line x1="76.57" y1="377.80" x2="76.57" y2="380.80" stroke="#111" stroke-width="1"/>
<line x1="93.65" y1="318.20" x2="93.65" y2="321.20" stroke="#111" stroke-width="1"/>
<line x1="93.65" y1="377.80" x2="93.65" y2="380.80" stroke="#111" stroke-width="1"/>
<line x1="110.73" y1="318.20" x2="110.73" y2="321.20" stroke="#111" stroke-width="1"/>
<line x1="110.73" y1="377.80" x2="110.73" y2="380.80" stroke="#111" stroke-width="1"/>
<line x1="127.82" y1="318.20" x2="127.82" y2="321.20" stroke="#111" stroke-width="1"/>
<line x1="127.82" y1="377.80" x2="127.82" y2="380.80" stroke="#111" stroke-width="1"/>
<line x1="144.90" y1="318.20" x2="144.90" y2="321.20" stroke="#111" stroke-width="1"/>
<line x1="144.90" y1="377.80" x2="144.90" y2="380.80" stroke="#111" stroke-width="1"/>
<line x1="40.90" y1="379.30" x2="43.90" y2="379.30" stroke="#111" stroke-width="1"/>
<line x1="143.40" y1="379.30" x2="146.40" y2="379.30" stroke="#111" stroke-width="1"/>
<line x1="40.90" y1="359.43" x2="43.90" y2="359.43" stroke="#111" stroke-width="1"/>
<line x1="143.40" y1="359.43" x2="146.40" y2="359.43" stroke="#111" stroke-width="1"/>
<line x1="40.90" y1="339.57" x2="43.90" y2="339.57" stroke="#111" stroke-width="1"/>
<line x1="143.40" y1="339.57" x2="146.40" y2="339.57" stroke="#111" stroke-width="1"/>
<line x1="40.90" y1="319.70" x2="43.90" y2="319.70" stroke="#111" stroke-width="1"/>
<line x1="143.40" y1="319.70" x2="146.40" y2="319.70" stroke="#111" stroke-width="1"/>
<text x="42.80" y="386.40" font-size="7.6" text-anchor="middle" font-weight="normal" fill="#111" >0</text>
<text x="61.00" y="386.40" font-size="7.6" text-anchor="middle" font-weight="normal" fill="#111" >5</text>
<text x="78.60" y="386.40" font-size="7.6" text-anchor="middle" font-weight="normal" fill="#111" >10</text>
<text x="96.10" y="386.40" font-size="7.6" text-anchor="middle" font-weight="normal" fill="#111" >15</text>
<text x="113.70" y="386.40" font-size="7.6" text-anchor="middle" font-weight="normal" fill="#111" >20</text>
<text x="130.90" y="386.40" font-size="7.6" text-anchor="middle" font-weight="normal" fill="#111" >25</text>
<text x="147.60" y="386.40" font-size="7.6" text-anchor="middle" font-weight="normal" fill="#111" >30</text>
<text x="41.20" y="382.02" font-size="7.6" text-anchor="end" font-weight="normal" fill="#111" >0.00</text>
<text x="41.20" y="362.15" font-size="7.6" text-anchor="end" font-weight="normal" fill="#111" >0.25</text>
<text x="41.20" y="342.29" font-size="7.6" text-anchor="end" font-weight="normal" fill="#111" >0.50</text>
<text x="41.20" y="322.42" font-size="7.6" text-anchor="end" font-weight="normal" fill="#111" >0.75</text>
<path d="M40.90,390.90 L43.40,386.30 L45.90,390.90 Z" fill="#111"/>
<line x1="43.40" y1="389.90" x2="43.40" y2="397.40" stroke="#111" stroke-width="1.8"/>
<text x="48.80" y="403.00" font-size="7.8" text-anchor="middle" font-weight="normal" fill="#111" >Ab</text>
<text x="93.90" y="415.20" font-size="11.5" text-anchor="middle" font-weight="normal" fill="#111" >Days After Start of Therapy</text>
<text transform="translate(19.90,397.32) rotate(-90)" font-size="10.9" text-anchor="start" fill="#111">Tumor Size <tspan dx="0.6">(cm</tspan><tspan dx="0.8" dy="-4.47" font-size="9.81">2</tspan><tspan dy="4.47">)</tspan></text>
<polyline points="42.40,378.90 83.90,372.00 97.30,360.00 118.00,354.90 124.70,348.20 138.80,340.80" fill="none" stroke="#36a336" stroke-width="2.8" stroke-linejoin="round" stroke-linecap="round"/>
<rect x="81.60" y="369.70" width="4.6" height="4.6" fill="#36a336"/>
<rect x="95.00" y="357.70" width="4.6" height="4.6" fill="#36a336"/>
<rect x="115.70" y="352.60" width="4.6" height="4.6" fill="#36a336"/>
<rect x="122.40" y="345.90" width="4.6" height="4.6" fill="#36a336"/>
<rect x="136.50" y="338.50" width="4.6" height="4.6" fill="#36a336"/>
<line x1="138.80" y1="334.80" x2="138.80" y2="345.20" stroke="#36a336" stroke-width="1.8"/>
<line x1="136.40" y1="334.80" x2="141.20" y2="334.80" stroke="#36a336" stroke-width="1.8"/>
<line x1="136.40" y1="345.20" x2="141.20" y2="345.20" stroke="#36a336" stroke-width="1.8"/>
<polyline points="83.90,367.50 97.30,357.80 118.00,348.20 124.70,338.50 138.80,326.70" fill="none" stroke="#1c4f9f" stroke-width="3.4" stroke-linejoin="round" stroke-linecap="round"/>
<rect x="81.30" y="364.90" width="5.2" height="5.2" fill="#1c4f9f"/>
<rect x="94.70" y="355.20" width="5.2" height="5.2" fill="#1c4f9f"/>
<rect x="115.40" y="345.60" width="5.2" height="5.2" fill="#1c4f9f"/>
<rect x="122.10" y="335.90" width="5.2" height="5.2" fill="#1c4f9f"/>
<rect x="136.20" y="324.10" width="5.2" height="5.2" fill="#1c4f9f"/>
<line x1="83.90" y1="363.80" x2="83.90" y2="371.20" stroke="#1c4f9f" stroke-width="1.8"/>
<line x1="81.50" y1="363.80" x2="86.30" y2="363.80" stroke="#1c4f9f" stroke-width="1.8"/>
<line x1="81.50" y1="371.20" x2="86.30" y2="371.20" stroke="#1c4f9f" stroke-width="1.8"/>
<line x1="97.30" y1="353.40" x2="97.30" y2="362.30" stroke="#1c4f9f" stroke-width="1.8"/>
<line x1="94.90" y1="353.40" x2="99.70" y2="353.40" stroke="#1c4f9f" stroke-width="1.8"/>
<line x1="94.90" y1="362.30" x2="99.70" y2="362.30" stroke="#1c4f9f" stroke-width="1.8"/>
<line x1="118.00" y1="344.50" x2="118.00" y2="351.90" stroke="#1c4f9f" stroke-width="1.8"/>
<line x1="115.60" y1="344.50" x2="120.40" y2="344.50" stroke="#1c4f9f" stroke-width="1.8"/>
<line x1="115.60" y1="351.90" x2="120.40" y2="351.90" stroke="#1c4f9f" stroke-width="1.8"/>
<line x1="124.70" y1="335.60" x2="124.70" y2="343.00" stroke="#1c4f9f" stroke-width="1.8"/>
<line x1="122.30" y1="335.60" x2="127.10" y2="335.60" stroke="#1c4f9f" stroke-width="1.8"/>
<line x1="122.30" y1="343.00" x2="127.10" y2="343.00" stroke="#1c4f9f" stroke-width="1.8"/>
<line x1="138.80" y1="323.00" x2="138.80" y2="331.10" stroke="#1c4f9f" stroke-width="1.8"/>
<line x1="136.40" y1="323.00" x2="141.20" y2="323.00" stroke="#1c4f9f" stroke-width="1.8"/>
<line x1="136.40" y1="331.10" x2="141.20" y2="331.10" stroke="#1c4f9f" stroke-width="1.8"/>
<polyline points="42.40,378.90 83.70,326.80" fill="none" stroke="#111" stroke-width="3.0" stroke-linejoin="round" stroke-linecap="round"/>
<polyline points="83.70,326.80 97.20,327.50 102.20,319.40" fill="none" stroke="#111" stroke-width="2.4" stroke-linejoin="round" stroke-linecap="round"/>
<rect x="81.20" y="324.30" width="5" height="5" fill="#111"/>
<rect x="94.70" y="325.00" width="5" height="5" fill="#111"/>
<line x1="83.70" y1="323.50" x2="83.70" y2="330.00" stroke="#111" stroke-width="1.6"/>
<line x1="81.30" y1="323.50" x2="86.10" y2="323.50" stroke="#111" stroke-width="1.6"/>
<line x1="81.30" y1="330.00" x2="86.10" y2="330.00" stroke="#111" stroke-width="1.6"/>
<line x1="97.20" y1="324.00" x2="97.20" y2="331.00" stroke="#111" stroke-width="1.6"/>
<line x1="94.80" y1="324.00" x2="99.60" y2="324.00" stroke="#111" stroke-width="1.6"/>
<line x1="94.80" y1="331.00" x2="99.60" y2="331.00" stroke="#111" stroke-width="1.6"/>
<polyline points="42.40,378.90 83.20,378.40 97.30,378.30 118.00,377.80 124.70,375.60 138.80,368.20" fill="none" stroke="#ee1c1c" stroke-width="2.8" stroke-linejoin="round" stroke-linecap="round"/>
<path d="M80.45,378.40 L83.20,376.20 L85.95,378.40 L83.20,380.60 Z" fill="#ee1c1c"/>
<path d="M94.55,378.30 L97.30,376.10 L100.05,378.30 L97.30,380.50 Z" fill="#ee1c1c"/>
<path d="M115.25,377.80 L118.00,375.60 L120.75,377.80 L118.00,380.00 Z" fill="#ee1c1c"/>
<rect x="122.20" y="373.10" width="5" height="5" fill="#ee1c1c"/>
<rect x="136.30" y="365.70" width="5" height="5" fill="#ee1c1c"/>
<line x1="138.80" y1="365.30" x2="138.80" y2="372.00" stroke="#ee1c1c" stroke-width="1.8"/>
<line x1="136.40" y1="365.30" x2="141.20" y2="365.30" stroke="#ee1c1c" stroke-width="1.8"/>
<line x1="136.40" y1="372.00" x2="141.20" y2="372.00" stroke="#ee1c1c" stroke-width="1.8"/>
<circle cx="42.6" cy="378.9" r="2.4" fill="#6a4a9a"/>
<line x1="148.60" y1="325.20" x2="161.00" y2="325.20" stroke="#36a336" stroke-width="2.6"/>
<text x="162.60" y="328.40" font-size="8.8" text-anchor="start" font-weight="normal" fill="#111" >PBS in FcRKO mice</text>
<line x1="148.60" y1="343.20" x2="161.00" y2="343.20" stroke="#1c4f9f" stroke-width="2.6"/>
<text x="162.60" y="346.40" font-size="8.8" text-anchor="start" font-weight="normal" fill="#111" >Anti-A20 Id in FcRKO mice</text>
<line x1="148.60" y1="360.20" x2="161.00" y2="360.20" stroke="#111" stroke-width="2.6"/>
<text x="162.60" y="363.40" font-size="8.8" text-anchor="start" font-weight="normal" fill="#111" >PBS in Balb/c mice</text>
<line x1="148.60" y1="377.20" x2="161.00" y2="377.20" stroke="#ee1c1c" stroke-width="2.6"/>
<text x="162.60" y="380.40" font-size="8.8" text-anchor="start" font-weight="normal" fill="#111" >Anti-A20 Id in Balb/c mice</text>
<path d="M154.80,322.18 L157.55,327.68 L152.05,327.68 Z" fill="#36a336"/>
<rect x="151.5" y="341" width="7" height="4.4" fill="#1c4f9f"/>
<path d="M151,360.2 L160.5,357.8 L160.5,362.6 Z" fill="#111"/>
<path d="M151.30,377.20 L154.80,374.40 L158.30,377.20 L154.80,380.00 Z" fill="#ee1c1c"/>
<rect x="298.00" y="320.90" width="104.00" height="60.70" fill="none" stroke="#111" stroke-width="1.6"/>
<line x1="298.00" y1="319.40" x2="298.00" y2="322.40" stroke="#111" stroke-width="1"/>
<line x1="298.00" y1="380.10" x2="298.00" y2="383.10" stroke="#111" stroke-width="1"/>
<line x1="324.00" y1="319.40" x2="324.00" y2="322.40" stroke="#111" stroke-width="1"/>
<line x1="324.00" y1="380.10" x2="324.00" y2="383.10" stroke="#111" stroke-width="1"/>
<line x1="350.00" y1="319.40" x2="350.00" y2="322.40" stroke="#111" stroke-width="1"/>
<line x1="350.00" y1="380.10" x2="350.00" y2="383.10" stroke="#111" stroke-width="1"/>
<line x1="376.00" y1="319.40" x2="376.00" y2="322.40" stroke="#111" stroke-width="1"/>
<line x1="376.00" y1="380.10" x2="376.00" y2="383.10" stroke="#111" stroke-width="1"/>
<line x1="402.00" y1="319.40" x2="402.00" y2="322.40" stroke="#111" stroke-width="1"/>
<line x1="402.00" y1="380.10" x2="402.00" y2="383.10" stroke="#111" stroke-width="1"/>
<line x1="296.50" y1="381.60" x2="299.50" y2="381.60" stroke="#111" stroke-width="1"/>
<line x1="400.50" y1="381.60" x2="403.50" y2="381.60" stroke="#111" stroke-width="1"/>
<line x1="296.50" y1="371.48" x2="299.50" y2="371.48" stroke="#111" stroke-width="1"/>
<line x1="400.50" y1="371.48" x2="403.50" y2="371.48" stroke="#111" stroke-width="1"/>
<line x1="296.50" y1="361.37" x2="299.50" y2="361.37" stroke="#111" stroke-width="1"/>
<line x1="400.50" y1="361.37" x2="403.50" y2="361.37" stroke="#111" stroke-width="1"/>
<line x1="296.50" y1="351.25" x2="299.50" y2="351.25" stroke="#111" stroke-width="1"/>
<line x1="400.50" y1="351.25" x2="403.50" y2="351.25" stroke="#111" stroke-width="1"/>
<line x1="296.50" y1="341.13" x2="299.50" y2="341.13" stroke="#111" stroke-width="1"/>
<line x1="400.50" y1="341.13" x2="403.50" y2="341.13" stroke="#111" stroke-width="1"/>
<line x1="296.50" y1="331.02" x2="299.50" y2="331.02" stroke="#111" stroke-width="1"/>
<line x1="400.50" y1="331.02" x2="403.50" y2="331.02" stroke="#111" stroke-width="1"/>
<line x1="296.50" y1="320.90" x2="299.50" y2="320.90" stroke="#111" stroke-width="1"/>
<line x1="400.50" y1="320.90" x2="403.50" y2="320.90" stroke="#111" stroke-width="1"/>
<text x="299.40" y="389.60" font-size="8.3" text-anchor="middle" font-weight="normal" fill="#111" >0</text>
<text x="325.20" y="389.60" font-size="8.3" text-anchor="middle" font-weight="normal" fill="#111" >10</text>
<text x="349.80" y="389.60" font-size="8.3" text-anchor="middle" font-weight="normal" fill="#111" >20</text>
<text x="375.60" y="389.60" font-size="8.3" text-anchor="middle" font-weight="normal" fill="#111" >30</text>
<text x="402.80" y="389.60" font-size="8.3" text-anchor="middle" font-weight="normal" fill="#111" >40</text>
<text x="296.80" y="384.57" font-size="8.3" text-anchor="end" font-weight="normal" fill="#111" >0</text>
<text x="296.80" y="374.45" font-size="8.3" text-anchor="end" font-weight="normal" fill="#111" >1</text>
<text x="296.80" y="364.34" font-size="8.3" text-anchor="end" font-weight="normal" fill="#111" >2</text>
<text x="296.80" y="354.22" font-size="8.3" text-anchor="end" font-weight="normal" fill="#111" >3</text>
<text x="296.80" y="344.10" font-size="8.3" text-anchor="end" font-weight="normal" fill="#111" >4</text>
<text x="296.80" y="333.99" font-size="8.3" text-anchor="end" font-weight="normal" fill="#111" >5</text>
<text x="296.80" y="323.87" font-size="8.3" text-anchor="end" font-weight="normal" fill="#111" >6</text>
<path d="M297.20,394.10 L299.60,388.40 L302.00,394.10 Z" fill="#111"/>
<line x1="299.60" y1="393.10" x2="299.60" y2="399.80" stroke="#111" stroke-width="1.8"/>
<text x="305.45" y="404.30" font-size="7.6" text-anchor="middle" font-weight="normal" fill="#111" >Ab</text>
<text x="355.60" y="414.40" font-size="11.5" text-anchor="middle" font-weight="normal" fill="#111" >Days After Start of Therapy</text>
<text transform="translate(282.00,397.66) rotate(-90)" font-size="11" text-anchor="start" fill="#111">Tumor Size <tspan dx="1.0">(cm</tspan><tspan dx="0.8" dy="-4.51" font-size="9.90">2</tspan><tspan dy="4.51">)</tspan></text>
<polyline points="298.00,381.40 308.90,374.30 318.70,370.40 337.20,358.20 349.70,356.90 362.80,332.40" fill="none" stroke="#111" stroke-width="3.4" stroke-linejoin="round" stroke-linecap="round"/>
<circle cx="308.9" cy="374.3" r="2.6" fill="#111"/>
<circle cx="318.7" cy="370.4" r="2.6" fill="#111"/>
<rect x="334.20" y="355.20" width="6" height="6" fill="#111"/>
<rect x="346.70" y="353.90" width="6" height="6" fill="#111"/>
<rect x="360.55" y="330.15" width="4.5" height="4.5" fill="#111"/>
<line x1="362.80" y1="328.30" x2="362.80" y2="337.30" stroke="#111" stroke-width="1.8"/>
<line x1="360.00" y1="328.30" x2="365.60" y2="328.30" stroke="#111" stroke-width="1.8"/>
<line x1="360.00" y1="337.30" x2="365.60" y2="337.30" stroke="#111" stroke-width="1.8"/>
<polyline points="298.00,381.20 345.00,381.20 360.40,380.60 368.00,376.50 375.90,371.60" fill="none" stroke="#36a336" stroke-width="2.8" stroke-linejoin="round" stroke-linecap="round"/>
<rect x="373.65" y="369.75" width="4.5" height="4.5" fill="#36a336"/>
<polyline points="298.00,381.20 308.90,381.20 318.70,381.20 337.20,381.20 349.70,381.20 362.80,380.50 368.00,379.00 375.90,376.50" fill="none" stroke="#ee1c1c" stroke-width="3.4" stroke-linejoin="round" stroke-linecap="round"/>
<path d="M295.00,381.20 L298.00,378.80 L301.00,381.20 L298.00,383.60 Z" fill="#ee1c1c"/>
<path d="M305.90,381.20 L308.90,378.80 L311.90,381.20 L308.90,383.60 Z" fill="#ee1c1c"/>
<path d="M315.70,381.20 L318.70,378.80 L321.70,381.20 L318.70,383.60 Z" fill="#ee1c1c"/>
<path d="M334.20,381.20 L337.20,378.80 L340.20,381.20 L337.20,383.60 Z" fill="#ee1c1c"/>
<path d="M346.70,381.20 L349.70,378.80 L352.70,381.20 L349.70,383.60 Z" fill="#ee1c1c"/>
<path d="M359.80,380.50 L362.80,378.10 L365.80,380.50 L362.80,382.90 Z" fill="#ee1c1c"/>
<path d="M365.00,379.00 L368.00,376.60 L371.00,379.00 L368.00,381.40 Z" fill="#ee1c1c"/>
<rect x="373.15" y="373.75" width="5.5" height="5.5" fill="#ee1c1c"/>
<line x1="407.90" y1="324.90" x2="418.40" y2="324.90" stroke="#111" stroke-width="2.8"/>
<text x="419.80" y="328.20" font-size="8.7" text-anchor="start" font-weight="normal" fill="#111" >Saline in CD8-/- Mice</text>
<line x1="407.90" y1="342.90" x2="418.40" y2="342.90" stroke="#36a336" stroke-width="2.8"/>
<text x="419.80" y="346.20" font-size="8.7" text-anchor="start" font-weight="normal" fill="#111" >Anti-A20 Id in CD8-/- Mice</text>
<line x1="407.90" y1="361.00" x2="418.40" y2="361.00" stroke="#ee1c1c" stroke-width="2.8"/>
<text x="419.80" y="364.30" font-size="8.7" text-anchor="start" font-weight="normal" fill="#111" >Anti-A20 Id in Balb/c Mice</text>
<path d="M410.75,325.20 L414.50,322.20 L418.25,325.20 L414.50,328.20 Z" fill="#111"/>
<ellipse cx="413" cy="361" rx="5.2" ry="2.6" fill="#ee1c1c"/>
</svg>
</body></html>
